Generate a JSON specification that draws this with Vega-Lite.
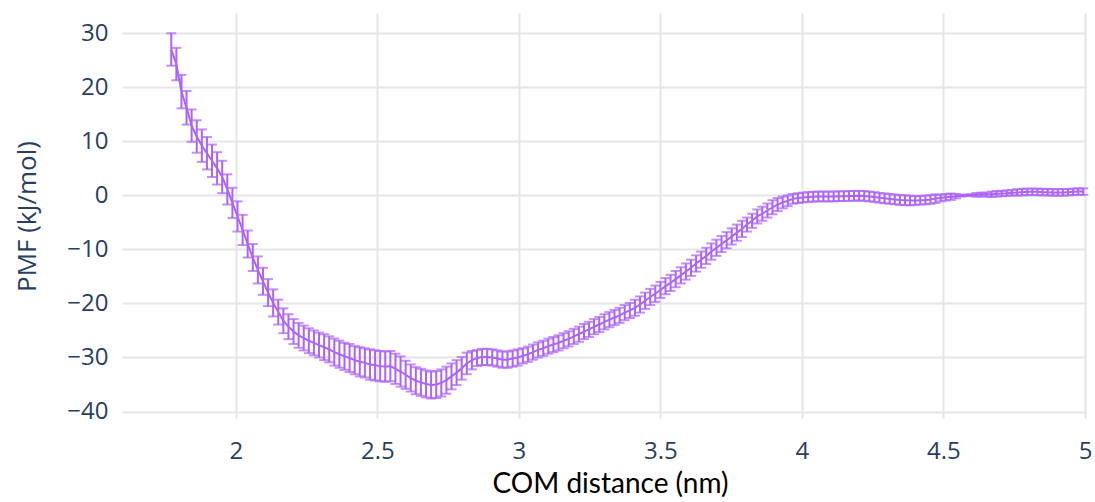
{
  "$schema": "https://vega.github.io/schema/vega-lite/v6.json",
  "width": 963,
  "height": 405,
  "autosize": "none",
  "padding": {"left": 122, "top": 13, "right": 10, "bottom": 84},
  "background": "white",
  "config": {
    "view": {"stroke": null},
    "axis": {
      "domain": false,
      "ticks": false,
      "grid": true,
      "gridColor": "#e6e6e6",
      "gridWidth": 2,
      "labelFont": "Open Sans",
      "labelFontSize": 24,
      "labelColor": "#2a3f5f",
      "titleFontWeight": "normal"
    }
  },
  "data": {
    "values": [
      {"d": 1.772, "pmf": 27.0, "err": 3.0},
      {"d": 1.790, "pmf": 24.3, "err": 3.0},
      {"d": 1.808, "pmf": 19.2, "err": 3.1},
      {"d": 1.826, "pmf": 16.2, "err": 3.1},
      {"d": 1.844, "pmf": 12.9, "err": 3.0},
      {"d": 1.862, "pmf": 10.9, "err": 3.0},
      {"d": 1.880, "pmf": 9.2, "err": 3.0},
      {"d": 1.898, "pmf": 7.8, "err": 3.0},
      {"d": 1.916, "pmf": 6.4, "err": 3.0},
      {"d": 1.934, "pmf": 5.0, "err": 3.0},
      {"d": 1.952, "pmf": 3.4, "err": 3.0},
      {"d": 1.970, "pmf": 1.1, "err": 2.8},
      {"d": 1.988, "pmf": -1.4, "err": 2.8},
      {"d": 2.006, "pmf": -3.9, "err": 2.8},
      {"d": 2.024, "pmf": -6.4, "err": 2.8},
      {"d": 2.042, "pmf": -9.0, "err": 2.5},
      {"d": 2.060, "pmf": -11.5, "err": 2.5},
      {"d": 2.078, "pmf": -13.8, "err": 2.5},
      {"d": 2.096, "pmf": -15.9, "err": 2.5},
      {"d": 2.114, "pmf": -18.0, "err": 2.5},
      {"d": 2.132, "pmf": -19.9, "err": 2.5},
      {"d": 2.150, "pmf": -21.6, "err": 2.3},
      {"d": 2.168, "pmf": -23.2, "err": 2.3},
      {"d": 2.186, "pmf": -24.3, "err": 2.3},
      {"d": 2.204, "pmf": -25.2, "err": 2.3},
      {"d": 2.222, "pmf": -25.9, "err": 2.3},
      {"d": 2.240, "pmf": -26.4, "err": 2.3},
      {"d": 2.258, "pmf": -26.9, "err": 2.3},
      {"d": 2.276, "pmf": -27.3, "err": 2.3},
      {"d": 2.294, "pmf": -27.7, "err": 2.3},
      {"d": 2.312, "pmf": -28.1, "err": 2.4},
      {"d": 2.330, "pmf": -28.5, "err": 2.4},
      {"d": 2.348, "pmf": -29.0, "err": 2.5},
      {"d": 2.366, "pmf": -29.4, "err": 2.5},
      {"d": 2.384, "pmf": -29.8, "err": 2.5},
      {"d": 2.402, "pmf": -30.1, "err": 2.6},
      {"d": 2.420, "pmf": -30.5, "err": 2.6},
      {"d": 2.438, "pmf": -30.8, "err": 2.7},
      {"d": 2.456, "pmf": -31.0, "err": 2.7},
      {"d": 2.474, "pmf": -31.3, "err": 2.8},
      {"d": 2.492, "pmf": -31.45, "err": 2.8},
      {"d": 2.510, "pmf": -31.6, "err": 2.8},
      {"d": 2.528, "pmf": -31.7, "err": 2.8},
      {"d": 2.546, "pmf": -31.6, "err": 2.8},
      {"d": 2.564, "pmf": -32.1, "err": 2.8},
      {"d": 2.582, "pmf": -32.6, "err": 2.8},
      {"d": 2.600, "pmf": -33.2, "err": 2.6},
      {"d": 2.618, "pmf": -33.8, "err": 2.5},
      {"d": 2.636, "pmf": -34.3, "err": 2.5},
      {"d": 2.654, "pmf": -34.6, "err": 2.5},
      {"d": 2.672, "pmf": -34.9, "err": 2.5},
      {"d": 2.690, "pmf": -35.1, "err": 2.5},
      {"d": 2.708, "pmf": -35.0, "err": 2.5},
      {"d": 2.726, "pmf": -34.7, "err": 2.5},
      {"d": 2.744, "pmf": -34.2, "err": 2.5},
      {"d": 2.762, "pmf": -33.5, "err": 2.4},
      {"d": 2.780, "pmf": -32.8, "err": 2.3},
      {"d": 2.798, "pmf": -32.0, "err": 2.1},
      {"d": 2.816, "pmf": -31.1, "err": 2.0},
      {"d": 2.834, "pmf": -30.5, "err": 1.7},
      {"d": 2.852, "pmf": -30.1, "err": 1.5},
      {"d": 2.870, "pmf": -29.9, "err": 1.5},
      {"d": 2.888, "pmf": -29.9, "err": 1.5},
      {"d": 2.906, "pmf": -30.0, "err": 1.5},
      {"d": 2.924, "pmf": -30.2, "err": 1.5},
      {"d": 2.942, "pmf": -30.4, "err": 1.5},
      {"d": 2.960, "pmf": -30.4, "err": 1.5},
      {"d": 2.978, "pmf": -30.2, "err": 1.5},
      {"d": 2.996, "pmf": -30.0, "err": 1.5},
      {"d": 3.014, "pmf": -29.7, "err": 1.4},
      {"d": 3.032, "pmf": -29.4, "err": 1.4},
      {"d": 3.050, "pmf": -29.0, "err": 1.4},
      {"d": 3.068, "pmf": -28.6, "err": 1.4},
      {"d": 3.086, "pmf": -28.3, "err": 1.4},
      {"d": 3.104, "pmf": -27.9, "err": 1.4},
      {"d": 3.122, "pmf": -27.6, "err": 1.4},
      {"d": 3.140, "pmf": -27.3, "err": 1.4},
      {"d": 3.158, "pmf": -26.9, "err": 1.4},
      {"d": 3.176, "pmf": -26.55, "err": 1.4},
      {"d": 3.194, "pmf": -26.1, "err": 1.4},
      {"d": 3.212, "pmf": -25.7, "err": 1.4},
      {"d": 3.230, "pmf": -25.2, "err": 1.4},
      {"d": 3.248, "pmf": -24.8, "err": 1.4},
      {"d": 3.266, "pmf": -24.3, "err": 1.4},
      {"d": 3.284, "pmf": -23.9, "err": 1.4},
      {"d": 3.302, "pmf": -23.4, "err": 1.4},
      {"d": 3.320, "pmf": -23.0, "err": 1.4},
      {"d": 3.338, "pmf": -22.6, "err": 1.4},
      {"d": 3.356, "pmf": -22.2, "err": 1.4},
      {"d": 3.374, "pmf": -21.7, "err": 1.4},
      {"d": 3.392, "pmf": -21.3, "err": 1.4},
      {"d": 3.410, "pmf": -20.8, "err": 1.5},
      {"d": 3.428, "pmf": -20.2, "err": 1.5},
      {"d": 3.446, "pmf": -19.5, "err": 1.5},
      {"d": 3.464, "pmf": -18.8, "err": 1.5},
      {"d": 3.482, "pmf": -18.2, "err": 1.5},
      {"d": 3.500, "pmf": -17.5, "err": 1.5},
      {"d": 3.518, "pmf": -16.8, "err": 1.5},
      {"d": 3.536, "pmf": -16.2, "err": 1.5},
      {"d": 3.554, "pmf": -15.5, "err": 1.5},
      {"d": 3.572, "pmf": -14.8, "err": 1.5},
      {"d": 3.590, "pmf": -14.1, "err": 1.5},
      {"d": 3.608, "pmf": -13.4, "err": 1.5},
      {"d": 3.626, "pmf": -12.6, "err": 1.5},
      {"d": 3.644, "pmf": -11.9, "err": 1.5},
      {"d": 3.662, "pmf": -11.2, "err": 1.5},
      {"d": 3.680, "pmf": -10.4, "err": 1.5},
      {"d": 3.698, "pmf": -9.7, "err": 1.5},
      {"d": 3.716, "pmf": -9.0, "err": 1.5},
      {"d": 3.734, "pmf": -8.3, "err": 1.5},
      {"d": 3.752, "pmf": -7.6, "err": 1.5},
      {"d": 3.770, "pmf": -6.9, "err": 1.5},
      {"d": 3.788, "pmf": -6.2, "err": 1.5},
      {"d": 3.806, "pmf": -5.4, "err": 1.3},
      {"d": 3.824, "pmf": -4.7, "err": 1.3},
      {"d": 3.842, "pmf": -3.9, "err": 1.3},
      {"d": 3.860, "pmf": -3.4, "err": 1.3},
      {"d": 3.878, "pmf": -2.8, "err": 1.3},
      {"d": 3.896, "pmf": -2.2, "err": 1.3},
      {"d": 3.914, "pmf": -1.7, "err": 1.2},
      {"d": 3.932, "pmf": -1.3, "err": 1.1},
      {"d": 3.950, "pmf": -1.0, "err": 1.0},
      {"d": 3.968, "pmf": -0.65, "err": 0.9},
      {"d": 3.986, "pmf": -0.5, "err": 0.9},
      {"d": 4.004, "pmf": -0.4, "err": 0.9},
      {"d": 4.022, "pmf": -0.3, "err": 0.9},
      {"d": 4.040, "pmf": -0.25, "err": 0.9},
      {"d": 4.058, "pmf": -0.2, "err": 0.9},
      {"d": 4.076, "pmf": -0.2, "err": 0.9},
      {"d": 4.094, "pmf": -0.2, "err": 0.9},
      {"d": 4.112, "pmf": -0.2, "err": 0.9},
      {"d": 4.130, "pmf": -0.15, "err": 0.9},
      {"d": 4.148, "pmf": -0.15, "err": 0.9},
      {"d": 4.166, "pmf": -0.1, "err": 0.9},
      {"d": 4.184, "pmf": -0.1, "err": 0.9},
      {"d": 4.202, "pmf": -0.05, "err": 0.9},
      {"d": 4.220, "pmf": -0.1, "err": 0.9},
      {"d": 4.238, "pmf": -0.2, "err": 0.9},
      {"d": 4.256, "pmf": -0.3, "err": 0.9},
      {"d": 4.274, "pmf": -0.45, "err": 0.9},
      {"d": 4.292, "pmf": -0.55, "err": 0.9},
      {"d": 4.310, "pmf": -0.65, "err": 0.9},
      {"d": 4.328, "pmf": -0.75, "err": 0.9},
      {"d": 4.346, "pmf": -0.85, "err": 0.9},
      {"d": 4.364, "pmf": -0.9, "err": 0.9},
      {"d": 4.382, "pmf": -0.95, "err": 0.9},
      {"d": 4.400, "pmf": -0.95, "err": 0.8},
      {"d": 4.418, "pmf": -0.9, "err": 0.8},
      {"d": 4.436, "pmf": -0.85, "err": 0.8},
      {"d": 4.454, "pmf": -0.75, "err": 0.8},
      {"d": 4.472, "pmf": -0.6, "err": 0.8},
      {"d": 4.490, "pmf": -0.5, "err": 0.6},
      {"d": 4.508, "pmf": -0.35, "err": 0.6},
      {"d": 4.526, "pmf": -0.25, "err": 0.6},
      {"d": 4.544, "pmf": -0.15, "err": 0.4},
      {"d": 4.562, "pmf": -0.05, "err": 0.15},
      {"d": 4.580, "pmf": 0.0, "err": 0.15},
      {"d": 4.598, "pmf": 0.05, "err": 0.15},
      {"d": 4.616, "pmf": 0.1, "err": 0.35},
      {"d": 4.634, "pmf": 0.15, "err": 0.35},
      {"d": 4.652, "pmf": 0.15, "err": 0.35},
      {"d": 4.670, "pmf": 0.2, "err": 0.5},
      {"d": 4.688, "pmf": 0.3, "err": 0.5},
      {"d": 4.706, "pmf": 0.35, "err": 0.5},
      {"d": 4.724, "pmf": 0.4, "err": 0.5},
      {"d": 4.742, "pmf": 0.5, "err": 0.5},
      {"d": 4.760, "pmf": 0.55, "err": 0.6},
      {"d": 4.778, "pmf": 0.6, "err": 0.6},
      {"d": 4.796, "pmf": 0.65, "err": 0.6},
      {"d": 4.814, "pmf": 0.65, "err": 0.6},
      {"d": 4.832, "pmf": 0.65, "err": 0.6},
      {"d": 4.850, "pmf": 0.6, "err": 0.6},
      {"d": 4.868, "pmf": 0.6, "err": 0.6},
      {"d": 4.886, "pmf": 0.55, "err": 0.6},
      {"d": 4.904, "pmf": 0.55, "err": 0.6},
      {"d": 4.922, "pmf": 0.55, "err": 0.6},
      {"d": 4.940, "pmf": 0.6, "err": 0.6},
      {"d": 4.958, "pmf": 0.65, "err": 0.6},
      {"d": 4.976, "pmf": 0.7, "err": 0.6},
      {"d": 4.994, "pmf": 0.7, "err": 0.6}
    ]
  },
  "encoding": {
    "x": {
      "field": "d",
      "type": "quantitative",
      "scale": {"domain": [1.598, 5], "nice": false, "zero": false},
      "axis": {
        "values": [2, 2.5, 3, 3.5, 4, 4.5, 5],
        "format": "~g",
        "labelPadding": 21,
        "labelFlush": false,
        "title": "COM distance (nm)",
        "titleFont": "Lato",
        "titleFontSize": 28,
        "titleColor": "#000000",
        "titleX": 488,
        "titleY": 74,
        "titleBaseline": "alphabetic",
        "titleAlign": "center"
      }
    }
  },
  "layer": [
    {
      "mark": {"type": "errorbar", "ticks": true, "color": "#ab63fa", "size": 10, "thickness": 2},
      "encoding": {
        "y": {
          "field": "pmf",
          "type": "quantitative",
          "scale": {"domain": [-41.2, 33.75], "nice": false, "zero": false},
          "axis": {
            "values": [-40, -30, -20, -10, 0, 10, 20, 30],
            "labelPadding": 14,
            "title": "PMF (kJ/mol)",
            "titleFont": "Open Sans",
            "titleFontSize": 26,
            "titleColor": "#2a3f5f",
            "titleX": -95,
            "titleY": 203,
            "titleAngle": 270,
            "titleAlign": "center",
            "titleBaseline": "middle"
          }
        },
        "yError": {"field": "err"}
      }
    },
    {
      "mark": {"type": "line", "color": "#ab63fa", "strokeWidth": 2},
      "encoding": {
        "y": {"field": "pmf", "type": "quantitative"}
      }
    }
  ]
}
